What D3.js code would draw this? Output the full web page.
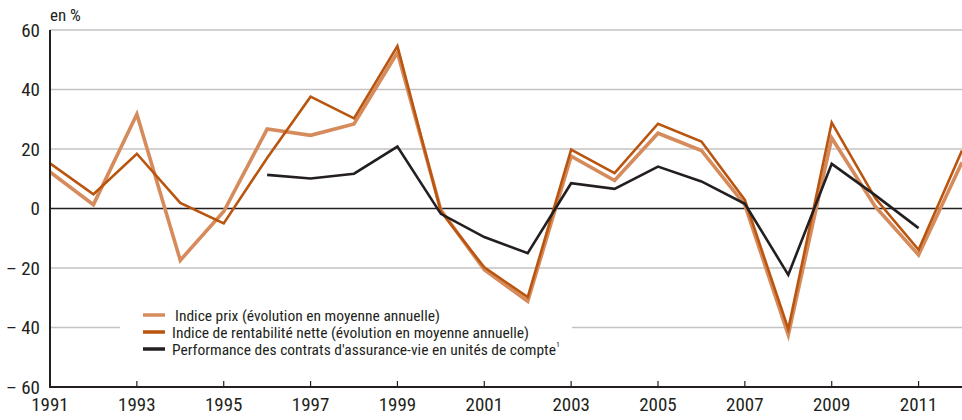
<!DOCTYPE html>
<html><head><meta charset="utf-8">
<script src="https://cdn.jsdelivr.net/npm/d3@7"></script>
<style>
body{margin:0;background:#fff;}
svg{display:block;font-family:"Liberation Sans Narrow","Arial Narrow","Roboto Condensed",sans-serif;}
</style></head>
<body><svg id="c" width="962" height="420"></svg>
<script>
const years = [1991,1992,1993,1994,1995,1996,1997,1998,1999,2000,2001,2002,2003,2004,2005,2006,2007,2008,2009,2010,2011,2012];
const indicePrix = [12.3,1.3,31.7,-17.4,-1,26.7,24.6,28.4,52.4,-0.5,-20.6,-31.2,17.6,9.4,25.3,19.5,1.2,-42.5,23.7,0.7,-15.6,15.5];
const indiceRentabilite = [15.2,4.8,18.4,1.9,-5,17,37.6,30.3,54.6,-1,-19.8,-29.8,19.8,11.9,28.5,22.5,2.9,-40.5,28.9,3.5,-13.9,19.5];
const perfYears = [1996,1997,1998,1999,2000,2001,2002,2003,2004,2005,2006,2007,2008,2009,2010,2011];
const performanceUC = [11.3,10.1,11.7,20.8,-1.8,-9.6,-15,8.5,6.6,14.1,9.1,1.6,-22.3,15,4.5,-6.6];
const yTicks = [60,40,20,0,-20,-40,-60];
const xTicks = [1991,1993,1995,1997,1999,2001,2003,2005,2007,2009,2011];
const legendLabels = ["Indice prix (évolution en moyenne annuelle)","Indice de rentabilité nette (évolution en moyenne annuelle)","Performance des contrats d'assurance-vie en unités de compte"];
const colors = ["#d68b5c","#b9550f","#231f20"];

const svg = d3.select("#c");
const x = d3.scaleLinear().domain([1991,2012]).range([50,962]);
const y = d3.scaleLinear().domain([-60,60]).range([387,30]);
const txt = "#231f20";

// gridlines
svg.append("g").selectAll("line").data(yTicks.filter(v=>v!==0 && v!==-60)).join("line")
  .attr("x1",50).attr("x2",962).attr("y1",d=>y(d)).attr("y2",d=>y(d))
  .attr("stroke","#c3c3c3").attr("stroke-width",1.5);

// y labels
svg.append("g").selectAll("text").data(yTicks).join("text")
  .attr("x",40).attr("y",d=>y(d)).attr("dy","0.36em").attr("text-anchor","end")
  .attr("font-size",19).attr("fill",txt)
  .text(d=>d<0?"\u2013 "+Math.abs(d):d);

svg.append("text").attr("x",50).attr("y",21).attr("font-size",17).attr("fill",txt).text("en %");

// legend background
svg.append("rect").attr("x",120).attr("y",305).attr("width",452).attr("height",55).attr("fill","#fff");

// zero line
svg.append("line").attr("x1",50).attr("x2",962).attr("y1",y(0)).attr("y2",y(0)).attr("stroke",txt).attr("stroke-width",1.5);

const line = d3.line().x(d=>x(d[0])).y(d=>y(d[1]));
const series = [
  {vals: years.map((yr,i)=>[yr,indicePrix[i]]), c: colors[0], w: 3.6},
  {vals: years.map((yr,i)=>[yr,indiceRentabilite[i]]), c: colors[1], w: 2.6},
  {vals: perfYears.map((yr,i)=>[yr,performanceUC[i]]), c: colors[2], w: 2.6}
];
svg.append("defs").append("clipPath").attr("id","clip").append("rect").attr("x",50).attr("y",0).attr("width",912).attr("height",387);
const lg = svg.append("g").attr("clip-path","url(#clip)");
series.forEach(s=>{
  lg.append("path").datum(s.vals).attr("d",line).attr("fill","none")
    .attr("stroke",s.c).attr("stroke-width",s.w).attr("stroke-linejoin","miter").attr("stroke-miterlimit",10);
});

// axes
svg.append("line").attr("x1",50).attr("x2",50).attr("y1",y(60)).attr("y2",388).attr("stroke",txt).attr("stroke-width",2);
svg.append("line").attr("x1",49).attr("x2",962).attr("y1",387).attr("y2",387).attr("stroke",txt).attr("stroke-width",2);
svg.append("g").selectAll("line").data(xTicks.slice(1)).join("line")
  .attr("x1",d=>x(d)).attr("x2",d=>x(d)).attr("y1",381).attr("y2",387).attr("stroke",txt).attr("stroke-width",1.2);
svg.append("g").selectAll("text").data(xTicks).join("text")
  .attr("x",d=>x(d)).attr("y",411).attr("text-anchor","middle").attr("font-size",19).attr("fill",txt)
  .text(d=>d);

// legend
const leg = svg.append("g");
const ly = [315,332,349];
legendLabels.forEach((l,i)=>{
  leg.append("line").attr("x1",143).attr("x2",165).attr("y1",ly[i]).attr("y2",ly[i])
    .attr("stroke",colors[i]).attr("stroke-width",3.5);
  const t = leg.append("text").attr("x",i===0?175:172).attr("y",ly[i]).attr("dy","0.36em")
    .attr("font-size",15.5).attr("fill",txt).text(l);
  if(i===2) t.append("tspan").attr("font-size",8).attr("dy","-0.9em").text("1");
});
</script></body></html>
